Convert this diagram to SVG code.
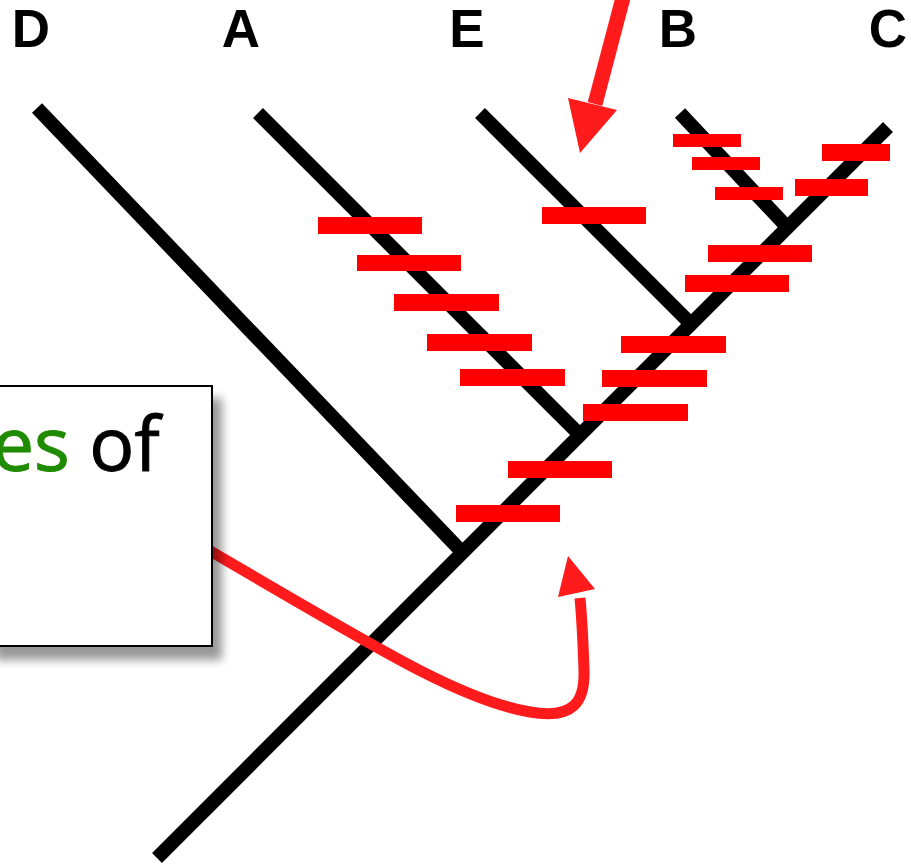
<svg xmlns="http://www.w3.org/2000/svg" width="911" height="867" viewBox="0 0 911 867">
  <style>
    .branch { stroke: #000; stroke-width: 14; stroke-linecap: butt; fill: none; }
    .tip { font-family: "Liberation Sans", Arial, sans-serif; font-weight: bold; font-size: 53px; fill: #000; text-anchor: middle; }
    .mark { fill: #ff0000; }
    .pointer { stroke: #ff1a1c; fill: none; }
    .note { font-family: "Open Sans", "Noto Sans", sans-serif; font-size: 75px; fill: #000; stroke: #000; stroke-width: 1; }
  </style>
  <defs>
    <filter id="softShadow" x="-20%" y="-20%" width="140%" height="140%">
      <feGaussianBlur stdDeviation="5"/>
    </filter>
  </defs>

  <rect width="911" height="867" fill="#fff"/>

  <!-- tree branches -->
  <g id="connectors">
    <line class="branch" x1="157" y1="858" x2="888" y2="127"/>
    <line class="branch" x1="37" y1="108" x2="462" y2="552"/>
    <line class="branch" x1="258" y1="113" x2="580" y2="435"/>
    <line class="branch" x1="480" y1="113" x2="691" y2="324"/>
    <line class="branch" x1="680" y1="113" x2="787" y2="227"/>
  </g>

  <!-- taxon labels -->
  <g id="taxon-D"><text class="tip" x="31" y="47">D</text></g>
  <g id="taxon-A"><text class="tip" x="241" y="47">A</text></g>
  <g id="taxon-E"><text class="tip" x="467" y="47">E</text></g>
  <g id="taxon-B"><text class="tip" x="678" y="47">B</text></g>
  <g id="taxon-C"><text class="tip" x="888" y="47">C</text></g>

  <!-- character change marks -->
  <g id="marks-A">
    <rect class="mark" x="318" y="217" width="104" height="17"/>
    <rect class="mark" x="357" y="255" width="104" height="16"/>
    <rect class="mark" x="394" y="294" width="105" height="17"/>
    <rect class="mark" x="427" y="334" width="105" height="17"/>
    <rect class="mark" x="460" y="369" width="105" height="17"/>
  </g>
  <g id="marks-E">
    <rect class="mark" x="542" y="207" width="104" height="17"/>
  </g>
  <g id="marks-trunk">
    <rect class="mark" x="456" y="505" width="104" height="17"/>
    <rect class="mark" x="508" y="461" width="104" height="17"/>
    <rect class="mark" x="583" y="404" width="105" height="17"/>
    <rect class="mark" x="602" y="370" width="105" height="17"/>
    <rect class="mark" x="621" y="336" width="105" height="17"/>
    <rect class="mark" x="685" y="275" width="104" height="17"/>
    <rect class="mark" x="708" y="245" width="104" height="17"/>
  </g>
  <g id="marks-B">
    <rect class="mark" x="673" y="134" width="68" height="13"/>
    <rect class="mark" x="692" y="157" width="68" height="13"/>
    <rect class="mark" x="715" y="187" width="68" height="13"/>
  </g>
  <g id="marks-C">
    <rect class="mark" x="822" y="144" width="68" height="17"/>
    <rect class="mark" x="795" y="179" width="73" height="17"/>
  </g>

  <!-- pointer arrows -->
  <g id="arrow-top">
    <line class="pointer" stroke-width="15" x1="625" y1="-10" x2="595" y2="104"/>
    <polygon fill="#ff1a1c" points="568,98 617,110 580,153"/>
  </g>
  <g id="arrow-curved">
    <path class="pointer" stroke-width="11" d="M 200 545 C 380 650, 460 700, 530 712 C 575 720, 585 700, 584 670 C 583 640, 582 620, 580 598"/>
    <polygon fill="#ff1a1c" points="558,597 595,589 568,556"/>
  </g>

  <!-- callout box -->
  <g id="callout">
    <rect x="-5" y="398" width="227" height="262" fill="#000" opacity="0.4" filter="url(#softShadow)"/>
    <rect x="-5" y="386" width="217" height="260" fill="#fff" stroke="#000" stroke-width="2"/>
    <text class="note" x="-8" y="471"><tspan fill="#1f8b00" stroke="#1f8b00">es</tspan> of</text>
  </g>
</svg>
